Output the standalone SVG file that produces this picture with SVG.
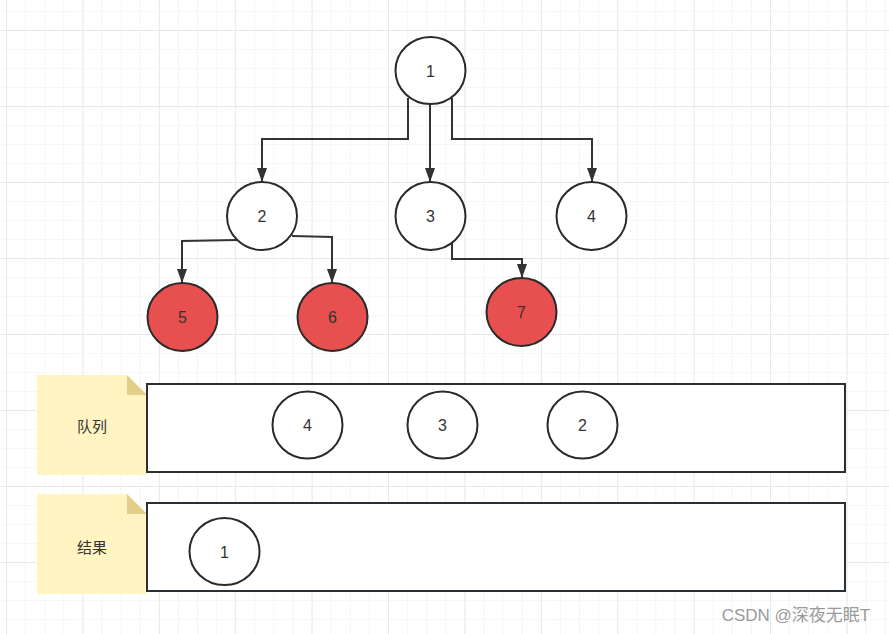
<svg xmlns="http://www.w3.org/2000/svg" width="889" height="634" viewBox="0 0 889 634">
<defs>
<pattern id="minor" x="6" y="11" width="19.1" height="19" patternUnits="userSpaceOnUse">
<path d="M0 0V19M0 0H19.1" fill="none" stroke="#efefef" stroke-width="1.2"/>
</pattern>
<pattern id="major" x="6" y="30" width="76.4" height="76" patternUnits="userSpaceOnUse">
<path d="M0 0V76M0 0H76.4" fill="none" stroke="#e4e4e4" stroke-width="1.4"/>
</pattern>
<marker id="arr" viewBox="0 0 14 10" refX="14" refY="5" markerWidth="14" markerHeight="10" markerUnits="userSpaceOnUse" orient="auto">
<path d="M0 0L14 5L0 10Z" fill="#333"/>
</marker>
<style>
.n{fill:#fff;stroke:#2a2a2a;stroke-width:2}
.r{fill:#e85050;stroke:#2a2a2a;stroke-width:2}
.t{font-family:"Liberation Sans","Noto Sans",sans-serif;font-size:16px;fill:#333;text-anchor:middle;dominant-baseline:central}
.c{font-family:"Noto Sans CJK SC",sans-serif;font-size:15px;fill:#333;text-anchor:middle;dominant-baseline:central}
.e{fill:none;stroke:#333;stroke-width:2}
.box{fill:#fff;stroke:#2a2f33;stroke-width:2}
.note{fill:#fff4c2}
.fold{fill:#e2cf89}
</style>
</defs>
<rect width="889" height="634" fill="#fff"/>
<rect width="889" height="634" fill="url(#minor)"/>
<rect width="889" height="634" fill="url(#major)"/>

<g id="connectors">
<path class="e" d="M408 98V139H262V182" marker-end="url(#arr)"/>
<path class="e" d="M430 104V182" marker-end="url(#arr)"/>
<path class="e" d="M452 98V139H592V182" marker-end="url(#arr)"/>
<path class="e" d="M237 240L182 241V283" marker-end="url(#arr)"/>
<path class="e" d="M292 236L332 237V283" marker-end="url(#arr)"/>
<path class="e" d="M452 243V259H522V278" marker-end="url(#arr)"/>
</g>

<g id="node1"><ellipse class="n" cx="430.5" cy="70.5" rx="35" ry="33.5"/><text class="t" x="430.5" y="71">1</text></g>
<g id="node2"><ellipse class="n" cx="262" cy="216" rx="35" ry="34"/><text class="t" x="262" y="216">2</text></g>
<g id="node3"><ellipse class="n" cx="430.5" cy="216" rx="35" ry="34"/><text class="t" x="430.5" y="216">3</text></g>
<g id="node4"><ellipse class="n" cx="591.5" cy="216" rx="35" ry="34"/><text class="t" x="591.5" y="216">4</text></g>
<g id="node5"><ellipse class="r" cx="182.5" cy="317" rx="35" ry="34"/><text class="t" x="182.5" y="317">5</text></g>
<g id="node6"><ellipse class="r" cx="332.5" cy="317" rx="35" ry="34"/><text class="t" x="332.5" y="317">6</text></g>
<g id="node7"><ellipse class="r" cx="521.5" cy="312" rx="35" ry="34"/><text class="t" x="521.5" y="312">7</text></g>

<g id="queue-label"><path class="note" d="M37 375H127L147 395V475H37Z"/><path class="fold" d="M127 375L147 395H127Z"/><text class="c" x="92" y="425">队列</text></g>
<g id="queue-box"><rect class="box" x="147" y="384" width="698" height="88"/></g>
<g id="q4"><ellipse class="n" cx="307.5" cy="425" rx="35" ry="33.5"/><text class="t" x="307.5" y="425">4</text></g>
<g id="q3"><ellipse class="n" cx="442.5" cy="425" rx="35" ry="33.5"/><text class="t" x="442.5" y="425">3</text></g>
<g id="q2"><ellipse class="n" cx="582.5" cy="425" rx="35" ry="33.5"/><text class="t" x="582.5" y="425">2</text></g>

<g id="result-label"><path class="note" d="M37 494H127L147 514V594H37Z"/><path class="fold" d="M127 494L147 514H127Z"/><text class="c" x="92" y="546">结果</text></g>
<g id="result-box"><rect class="box" x="147" y="503" width="698" height="88"/></g>
<g id="r1"><ellipse class="n" cx="224.5" cy="551.5" rx="35" ry="33.5"/><text class="t" x="224.5" y="552">1</text></g>

<text x="796" y="615" font-family="'Liberation Sans','Noto Sans CJK SC',sans-serif" font-size="17" fill="#9a9a9a" text-anchor="middle" dominant-baseline="central">CSDN @深夜无眠T</text>
</svg>
